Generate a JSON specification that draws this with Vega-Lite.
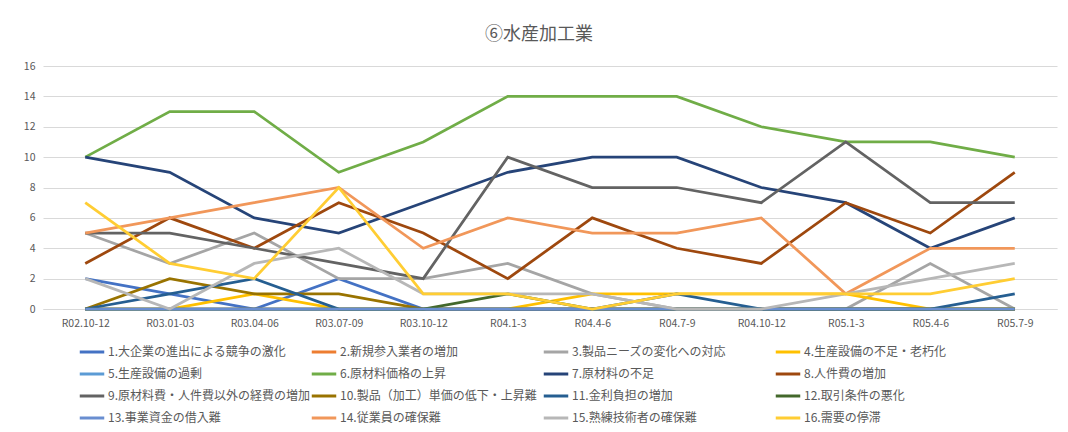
{
  "$schema": "https://vega.github.io/schema/vega-lite/v6.json",
  "autosize": {"type": "none"},
  "width": 1014,
  "height": 243,
  "padding": {"left": 43, "top": 66, "right": 11, "bottom": 123},
  "background": "white",
  "title": {"text": "⑥水産加工業", "fontSize": 18, "font": "Noto Sans CJK JP", "fontWeight": "normal", "color": "#595959", "anchor": "middle", "dx": -11, "offset": 17},
  "datasets": {
    "names": [
      {"id": 1, "name": "1.大企業の進出による競争の激化"},
      {"id": 2, "name": "2.新規参入業者の増加"},
      {"id": 3, "name": "3.製品ニーズの変化への対応"},
      {"id": 4, "name": "4.生産設備の不足・老朽化"},
      {"id": 5, "name": "5.生産設備の過剰"},
      {"id": 6, "name": "6.原材料価格の上昇"},
      {"id": 7, "name": "7.原材料の不足"},
      {"id": 8, "name": "8.人件費の増加"},
      {"id": 9, "name": "9.原材料費・人件費以外の経費の増加"},
      {"id": 10, "name": "10.製品（加工）単価の低下・上昇難"},
      {"id": 11, "name": "11.金利負担の増加"},
      {"id": 12, "name": "12.取引条件の悪化"},
      {"id": 13, "name": "13.事業資金の借入難"},
      {"id": 14, "name": "14.従業員の確保難"},
      {"id": 15, "name": "15.熟練技術者の確保難"},
      {"id": 16, "name": "16.需要の停滞"}
    ]
  },
  "data": {"values": [
    {"id":1,"p":"R02.10-12","v":2},{"id":1,"p":"R03.01-03","v":1},{"id":1,"p":"R03.04-06","v":0},{"id":1,"p":"R03.07-09","v":2},{"id":1,"p":"R03.10-12","v":0},{"id":1,"p":"R04.1-3","v":0},{"id":1,"p":"R04.4-6","v":0},{"id":1,"p":"R04.7-9","v":0},{"id":1,"p":"R04.10-12","v":0},{"id":1,"p":"R05.1-3","v":0},{"id":1,"p":"R05.4-6","v":0},{"id":1,"p":"R05.7-9","v":0},
    {"id":2,"p":"R02.10-12","v":0},{"id":2,"p":"R03.01-03","v":0},{"id":2,"p":"R03.04-06","v":0},{"id":2,"p":"R03.07-09","v":0},{"id":2,"p":"R03.10-12","v":0},{"id":2,"p":"R04.1-3","v":0},{"id":2,"p":"R04.4-6","v":0},{"id":2,"p":"R04.7-9","v":0},{"id":2,"p":"R04.10-12","v":0},{"id":2,"p":"R05.1-3","v":0},{"id":2,"p":"R05.4-6","v":0},{"id":2,"p":"R05.7-9","v":0},
    {"id":3,"p":"R02.10-12","v":5},{"id":3,"p":"R03.01-03","v":3},{"id":3,"p":"R03.04-06","v":5},{"id":3,"p":"R03.07-09","v":2},{"id":3,"p":"R03.10-12","v":2},{"id":3,"p":"R04.1-3","v":3},{"id":3,"p":"R04.4-6","v":1},{"id":3,"p":"R04.7-9","v":0},{"id":3,"p":"R04.10-12","v":0},{"id":3,"p":"R05.1-3","v":0},{"id":3,"p":"R05.4-6","v":3},{"id":3,"p":"R05.7-9","v":0},
    {"id":4,"p":"R02.10-12","v":0},{"id":4,"p":"R03.01-03","v":0},{"id":4,"p":"R03.04-06","v":1},{"id":4,"p":"R03.07-09","v":0},{"id":4,"p":"R03.10-12","v":0},{"id":4,"p":"R04.1-3","v":0},{"id":4,"p":"R04.4-6","v":1},{"id":4,"p":"R04.7-9","v":1},{"id":4,"p":"R04.10-12","v":1},{"id":4,"p":"R05.1-3","v":1},{"id":4,"p":"R05.4-6","v":0},{"id":4,"p":"R05.7-9","v":0},
    {"id":5,"p":"R02.10-12","v":0},{"id":5,"p":"R03.01-03","v":0},{"id":5,"p":"R03.04-06","v":0},{"id":5,"p":"R03.07-09","v":0},{"id":5,"p":"R03.10-12","v":0},{"id":5,"p":"R04.1-3","v":0},{"id":5,"p":"R04.4-6","v":0},{"id":5,"p":"R04.7-9","v":0},{"id":5,"p":"R04.10-12","v":0},{"id":5,"p":"R05.1-3","v":0},{"id":5,"p":"R05.4-6","v":0},{"id":5,"p":"R05.7-9","v":0},
    {"id":6,"p":"R02.10-12","v":10},{"id":6,"p":"R03.01-03","v":13},{"id":6,"p":"R03.04-06","v":13},{"id":6,"p":"R03.07-09","v":9},{"id":6,"p":"R03.10-12","v":11},{"id":6,"p":"R04.1-3","v":14},{"id":6,"p":"R04.4-6","v":14},{"id":6,"p":"R04.7-9","v":14},{"id":6,"p":"R04.10-12","v":12},{"id":6,"p":"R05.1-3","v":11},{"id":6,"p":"R05.4-6","v":11},{"id":6,"p":"R05.7-9","v":10},
    {"id":7,"p":"R02.10-12","v":10},{"id":7,"p":"R03.01-03","v":9},{"id":7,"p":"R03.04-06","v":6},{"id":7,"p":"R03.07-09","v":5},{"id":7,"p":"R03.10-12","v":7},{"id":7,"p":"R04.1-3","v":9},{"id":7,"p":"R04.4-6","v":10},{"id":7,"p":"R04.7-9","v":10},{"id":7,"p":"R04.10-12","v":8},{"id":7,"p":"R05.1-3","v":7},{"id":7,"p":"R05.4-6","v":4},{"id":7,"p":"R05.7-9","v":6},
    {"id":8,"p":"R02.10-12","v":3},{"id":8,"p":"R03.01-03","v":6},{"id":8,"p":"R03.04-06","v":4},{"id":8,"p":"R03.07-09","v":7},{"id":8,"p":"R03.10-12","v":5},{"id":8,"p":"R04.1-3","v":2},{"id":8,"p":"R04.4-6","v":6},{"id":8,"p":"R04.7-9","v":4},{"id":8,"p":"R04.10-12","v":3},{"id":8,"p":"R05.1-3","v":7},{"id":8,"p":"R05.4-6","v":5},{"id":8,"p":"R05.7-9","v":9},
    {"id":9,"p":"R02.10-12","v":5},{"id":9,"p":"R03.01-03","v":5},{"id":9,"p":"R03.04-06","v":4},{"id":9,"p":"R03.07-09","v":3},{"id":9,"p":"R03.10-12","v":2},{"id":9,"p":"R04.1-3","v":10},{"id":9,"p":"R04.4-6","v":8},{"id":9,"p":"R04.7-9","v":8},{"id":9,"p":"R04.10-12","v":7},{"id":9,"p":"R05.1-3","v":11},{"id":9,"p":"R05.4-6","v":7},{"id":9,"p":"R05.7-9","v":7},
    {"id":10,"p":"R02.10-12","v":0},{"id":10,"p":"R03.01-03","v":2},{"id":10,"p":"R03.04-06","v":1},{"id":10,"p":"R03.07-09","v":1},{"id":10,"p":"R03.10-12","v":0},{"id":10,"p":"R04.1-3","v":0},{"id":10,"p":"R04.4-6","v":0},{"id":10,"p":"R04.7-9","v":0},{"id":10,"p":"R04.10-12","v":0},{"id":10,"p":"R05.1-3","v":0},{"id":10,"p":"R05.4-6","v":0},{"id":10,"p":"R05.7-9","v":0},
    {"id":11,"p":"R02.10-12","v":0},{"id":11,"p":"R03.01-03","v":1},{"id":11,"p":"R03.04-06","v":2},{"id":11,"p":"R03.07-09","v":0},{"id":11,"p":"R03.10-12","v":0},{"id":11,"p":"R04.1-3","v":0},{"id":11,"p":"R04.4-6","v":0},{"id":11,"p":"R04.7-9","v":1},{"id":11,"p":"R04.10-12","v":0},{"id":11,"p":"R05.1-3","v":0},{"id":11,"p":"R05.4-6","v":0},{"id":11,"p":"R05.7-9","v":1},
    {"id":12,"p":"R02.10-12","v":0},{"id":12,"p":"R03.01-03","v":0},{"id":12,"p":"R03.04-06","v":0},{"id":12,"p":"R03.07-09","v":0},{"id":12,"p":"R03.10-12","v":0},{"id":12,"p":"R04.1-3","v":1},{"id":12,"p":"R04.4-6","v":0},{"id":12,"p":"R04.7-9","v":0},{"id":12,"p":"R04.10-12","v":0},{"id":12,"p":"R05.1-3","v":0},{"id":12,"p":"R05.4-6","v":0},{"id":12,"p":"R05.7-9","v":0},
    {"id":13,"p":"R02.10-12","v":0},{"id":13,"p":"R03.01-03","v":0},{"id":13,"p":"R03.04-06","v":0},{"id":13,"p":"R03.07-09","v":0},{"id":13,"p":"R03.10-12","v":0},{"id":13,"p":"R04.1-3","v":0},{"id":13,"p":"R04.4-6","v":0},{"id":13,"p":"R04.7-9","v":0},{"id":13,"p":"R04.10-12","v":0},{"id":13,"p":"R05.1-3","v":0},{"id":13,"p":"R05.4-6","v":0},{"id":13,"p":"R05.7-9","v":0},
    {"id":14,"p":"R02.10-12","v":5},{"id":14,"p":"R03.01-03","v":6},{"id":14,"p":"R03.04-06","v":7},{"id":14,"p":"R03.07-09","v":8},{"id":14,"p":"R03.10-12","v":4},{"id":14,"p":"R04.1-3","v":6},{"id":14,"p":"R04.4-6","v":5},{"id":14,"p":"R04.7-9","v":5},{"id":14,"p":"R04.10-12","v":6},{"id":14,"p":"R05.1-3","v":1},{"id":14,"p":"R05.4-6","v":4},{"id":14,"p":"R05.7-9","v":4},
    {"id":15,"p":"R02.10-12","v":2},{"id":15,"p":"R03.01-03","v":0},{"id":15,"p":"R03.04-06","v":3},{"id":15,"p":"R03.07-09","v":4},{"id":15,"p":"R03.10-12","v":1},{"id":15,"p":"R04.1-3","v":1},{"id":15,"p":"R04.4-6","v":1},{"id":15,"p":"R04.7-9","v":0},{"id":15,"p":"R04.10-12","v":0},{"id":15,"p":"R05.1-3","v":1},{"id":15,"p":"R05.4-6","v":2},{"id":15,"p":"R05.7-9","v":3},
    {"id":16,"p":"R02.10-12","v":7},{"id":16,"p":"R03.01-03","v":3},{"id":16,"p":"R03.04-06","v":2},{"id":16,"p":"R03.07-09","v":8},{"id":16,"p":"R03.10-12","v":1},{"id":16,"p":"R04.1-3","v":1},{"id":16,"p":"R04.4-6","v":0},{"id":16,"p":"R04.7-9","v":1},{"id":16,"p":"R04.10-12","v":1},{"id":16,"p":"R05.1-3","v":1},{"id":16,"p":"R05.4-6","v":1},{"id":16,"p":"R05.7-9","v":2}
  ]},
  "transform": [
    {"lookup": "id", "from": {"data": {"name": "names"}, "key": "id", "fields": ["name"]}}
  ],
  "mark": {"type": "line", "strokeWidth": 2.75},
  "encoding": {
    "x": {
      "field": "p", "type": "ordinal",
      "sort": ["R02.10-12","R03.01-03","R03.04-06","R03.07-09","R03.10-12","R04.1-3","R04.4-6","R04.7-9","R04.10-12","R05.1-3","R05.4-6","R05.7-9"],
      "axis": {"title": null, "labelAngle": 0, "labelColor": "#595959", "labelFontSize": 10.5, "labelFont": "Noto Sans CJK JP", "labelPadding": 9, "ticks": false, "domainColor": "#d9d9d9", "domainWidth": 1, "grid": false}
    },
    "y": {
      "field": "v", "type": "quantitative",
      "scale": {"domain": [0, 16], "nice": false},
      "axis": {"title": null, "values": [0,2,4,6,8,10,12,14,16], "labelColor": "#595959", "labelFontSize": 10.5, "labelFont": "Noto Sans CJK JP", "labelPadding": 8, "ticks": false, "domain": false, "gridColor": "#d9d9d9", "gridWidth": 1}
    },
    "color": {
      "field": "name", "type": "nominal",
      "scale": {
        "domain": ["1.大企業の進出による競争の激化","2.新規参入業者の増加","3.製品ニーズの変化への対応","4.生産設備の不足・老朽化","5.生産設備の過剰","6.原材料価格の上昇","7.原材料の不足","8.人件費の増加","9.原材料費・人件費以外の経費の増加","10.製品（加工）単価の低下・上昇難","11.金利負担の増加","12.取引条件の悪化","13.事業資金の借入難","14.従業員の確保難","15.熟練技術者の確保難","16.需要の停滞"],
        "range": ["#4472C4","#ED7D31","#A5A5A5","#FFC000","#5B9BD5","#70AD47","#264478","#9E480E","#636363","#997300","#255E91","#43682B","#698ED0","#F1975A","#B7B7B7","#FFCD33"]
      },
      "legend": {
        "title": null, "orient": "none", "legendX": 35, "legendY": 272,
        "direction": "horizontal", "columns": 4, "gridAlign": "all",
        "symbolType": "stroke", "symbolStrokeWidth": 3, "symbolSize": 600,
        "labelFontSize": 12, "labelFont": "Noto Sans CJK JP", "labelColor": "#595959", "labelLimit": 400,
        "labelOffset": 2, "columnPadding": -6, "rowPadding": 2, "symbolOffset": 0
      }
    }
  },
  "config": {"view": {"stroke": null}}
}
